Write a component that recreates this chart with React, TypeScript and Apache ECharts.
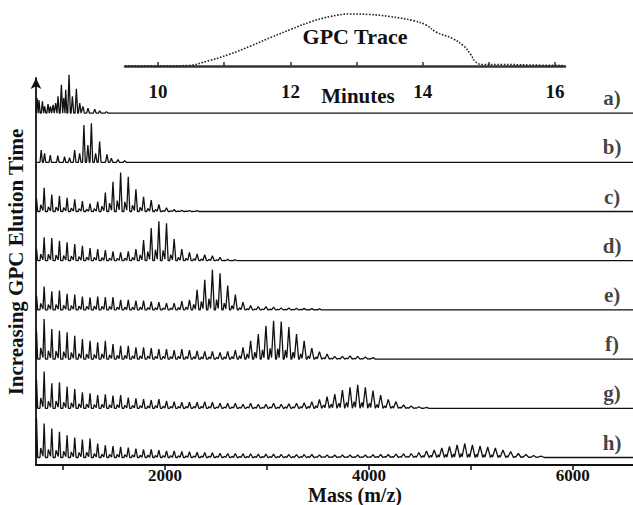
import React, { useEffect, useRef } from "react";
import * as echarts from "echarts";

// ---------------- data ----------------
const MASS_MIN = 735;
const MASS_MAX = 6590;
const massTickValues = [1000, 2000, 3000, 4000, 5000, 6000];
const massLabelValues = [2000, 4000, 6000];
const minuteTickValues = [10, 11, 12, 13, 14, 15, 16];
const minuteLabelValues = [10, 12, 14, 16];

// oligomer peak positions (m/z) shared by spectra c–h
const peakMass = [
  740, 815, 890, 965, 1040, 1115, 1190, 1265, 1340, 1415, 1490, 1565, 1640, 1715, 1790, 1865,
  1940, 2015, 2090, 2165, 2240, 2315, 2390, 2465, 2540, 2615, 2690, 2765, 2840, 2915, 2990, 3065,
  3140, 3215, 3290, 3365, 3440, 3515, 3590, 3665, 3740, 3815, 3890, 3965, 4040, 4115, 4190, 4265,
  4340, 4415, 4490, 4565, 4640, 4715, 4790, 4865, 4940, 5015, 5090, 5165, 5240, 5315, 5390, 5465,
  5540, 5615, 5690, 5765,
];

// spectrum a (explicit peak list)
const aMass = [745, 764, 798, 820, 853, 876, 902, 928, 951, 984, 1007, 1026, 1059, 1092, 1131, 1164, 1196, 1245, 1311, 1360, 1426];
const aHeight = [15, 13, 11.7, 6.7, 9, 6.7, 8.3, 10, 16.7, 28.3, 15, 23.3, 38.3, 16.7, 24.3, 10, 6.7, 5, 4, 2.3, 1.5];

// spectrum b (explicit peak list)
const bMass = [786, 819, 875, 949, 1015, 1064, 1114, 1163, 1205, 1244, 1278, 1320, 1359, 1431, 1474, 1539, 1605];
const bHeight = [12.3, 9, 7.3, 6.7, 5.7, 4.7, 12.3, 9, 37.3, 17.3, 39, 9, 20.7, 8, 4, 2.7, 1.7];

// spectra c–h: intensities on the peakMass grid
const cHeight = [13, 23.7, 17, 15.7, 13.7, 12.3, 10.3, 8, 10, 19, 29.7, 39, 34.7, 22.3, 14.7, 11.3, 7, 3.7, 2, 1.3, 1, 0.8];
const dHeight = [11.7, 23.3, 22.7, 20, 18.3, 16.7, 15, 12.7, 11.7, 10.7, 9.3, 8.3, 9.3, 11.7, 20.7, 32.7, 39.3, 37.3, 21.7, 11.7, 8.3, 6.7, 6, 5, 3.3, 1.5, 1];
const eHeight = [14.3, 23.3, 18.7, 19.3, 16, 15.3, 13.3, 12.7, 13.3, 12.7, 12.7, 10, 10, 9.3, 9.3, 8.3, 7.7, 6.7, 6.7, 8.7, 10, 20, 30, 40, 36.7, 24.3, 15.3, 7.7, 4.3, 3.3, 3.3, 2.7, 2, 2, 1.7, 1.5, 1.3, 1];
const fHeight = [28, 40, 30, 28.3, 26.7, 23.3, 20, 18.3, 16.7, 18.3, 15, 13.3, 13.3, 11.7, 11.7, 11, 10, 10, 9, 10, 9, 8.3, 7.7, 7.7, 6.7, 7.7, 9, 11.7, 18.3, 25, 33.3, 38.3, 37.5, 32, 25, 18.3, 11, 7.5, 5, 2.7, 2.7, 3.3, 2.7, 2, 1.5];
const gHeight = [28.3, 36.7, 25, 26, 21.7, 19.3, 16, 15, 13.3, 14, 12.7, 13.3, 10.7, 10, 9.3, 8.3, 9.3, 7.3, 6.7, 6, 6, 6, 6.7, 6, 5, 5, 5, 4, 5, 4, 4, 5, 4, 4.5, 5, 5.5, 6.7, 9, 11.7, 14.3, 18.3, 21, 23.5, 21, 17.7, 13.3, 9, 6.7, 3.3, 2.3, 1.5, 1];
const hHeight = [39, 34, 29, 25.7, 22.3, 20, 18, 19, 14, 12.3, 11.3, 10.7, 10, 9, 8, 8, 7.3, 6.7, 6.7, 6, 5.7, 5.3, 5, 4.7, 4.3, 4, 4, 3.7, 3.7, 3.3, 3.3, 3.3, 3, 3, 3, 3, 3, 2.7, 2.7, 2.5, 2.5, 2.5, 2.5, 2.5, 2.7, 3, 3, 3.3, 3.7, 4, 5, 6.5, 7.5, 9.5, 11, 12.5, 14, 12.5, 11.5, 10.5, 9.5, 7.5, 6, 4, 3, 2, 1.3];

const spectrumLabels = ["a)", "b)", "c)", "d)", "e)", "f)", "g)", "h)"];

// GPC trace (minutes, detector signal)
const gpcTime = [9.5, 10.0, 10.45, 10.75, 11.07, 11.4, 11.72, 12.02, 12.3, 12.6, 12.9, 13.2, 13.5, 13.85, 14.05, 14.2, 14.45, 14.62, 14.72, 14.8, 14.9, 15.2, 15.6, 16.15];
const gpcSignal = [0, 0, 0.5, 5, 11.5, 20, 29, 37, 44, 49.5, 52, 51.5, 49.5, 45.5, 41, 34, 27.5, 20, 12, 4, 1.5, 1.5, 1, 0.5];

// ---------------- layout / style ----------------
const ROW_BASE = 7.5;
const ROW_GAP = 49.2;
const LABEL_MASS = 6385;
const LABEL_LIFT = 15;
const SERIF = "'Liberation Serif', 'Times New Roman', serif";
const INK = "#111111";

type Spec = { masses: number[]; heights: number[]; shoulder: boolean };
const spectra: Spec[] = [
  { masses: aMass, heights: aHeight, shoulder: false },
  { masses: bMass, heights: bHeight, shoulder: false },
  { masses: peakMass, heights: cHeight, shoulder: true },
  { masses: peakMass, heights: dHeight, shoulder: true },
  { masses: peakMass, heights: eHeight, shoulder: true },
  { masses: peakMass, heights: fHeight, shoulder: true },
  { masses: peakMass, heights: gHeight, shoulder: true },
  { masses: peakMass, heights: hHeight, shoulder: true },
];

function rowOffset(k: number) {
  return ROW_BASE + ROW_GAP * (spectra.length - 1 - k);
}

function trace(s: Spec, off: number): number[][] {
  const pts: number[][] = [[MASS_MIN, off]];
  for (let j = 0; j < s.heights.length; j++) {
    const m = s.masses[j];
    const h = s.heights[j];
    const w = 9 + m * 0.0035;
    if (s.shoulder) {
      pts.push([m - 34 - w * 0.6, off]);
      pts.push([m - 34, off + h * 0.28]);
      pts.push([m - w, off + h * 0.04]);
    } else {
      pts.push([m - w, off]);
    }
    pts.push([m, off + h]);
    pts.push([m + w, off]);
  }
  pts.push([MASS_MAX, off]);
  return pts.map((p) => [Math.max(MASS_MIN, p[0]), p[1]]);
}

const centered = { textAlign: "center", textVerticalAlign: "middle", align: "center", verticalAlign: "middle" };

export default function App() {
  const ref = useRef<HTMLDivElement>(null);
  useEffect(() => {
    document.body.style.margin = "0";
    if (!ref.current) return;
    const chart = echarts.init(ref.current, undefined, { renderer: "svg" });

    const specSeries = spectra.map((s, k) => ({
      type: "line",
      xAxisIndex: 0,
      yAxisIndex: 0,
      data: trace(s, rowOffset(k)),
      showSymbol: false,
      symbol: "none",
      clip: false,
      silent: true,
      lineStyle: { color: INK, width: 1.3 },
    }));

    const labelSeries = {
      type: "scatter",
      xAxisIndex: 0,
      yAxisIndex: 0,
      symbolSize: 0,
      silent: true,
      clip: false,
      data: spectrumLabels.map((l, k) => [LABEL_MASS, rowOffset(k) + LABEL_LIFT, l]),
      label: {
        show: true,
        position: "inside",
        formatter: (p: any) => p.value[2],
        fontFamily: SERIF,
        fontWeight: "bold",
        fontSize: 21,
        color: INK,
      },
    };

    const gpcSeries = {
      type: "line",
      xAxisIndex: 1,
      yAxisIndex: 1,
      data: gpcTime.map((t, i) => [t, gpcSignal[i]]),
      smooth: 0.4,
      showSymbol: false,
      symbol: "none",
      silent: true,
      lineStyle: { color: "#222", width: 1.6, type: "dotted" },
    };

    const option: any = {
      animation: false,
      backgroundColor: "#ffffff",
      grid: [
        { left: 36, right: 0, top: 78, bottom: 40 },
        { left: 125, width: 440, top: 10, height: 68 },
      ],
      xAxis: [
        {
          type: "value",
          gridIndex: 0,
          min: MASS_MIN,
          max: MASS_MAX,
          axisLine: { show: true, lineStyle: { color: INK, width: 2 } },
          axisTick: { show: true, inside: false, length: 5, customValues: massTickValues, lineStyle: { color: INK, width: 1.5 } },
          axisLabel: {
            show: true,
            customValues: massLabelValues,
            formatter: (v: number) => String(v),
            fontFamily: SERIF,
            fontWeight: "bold",
            fontSize: 17,
            lineHeight: 16,
            color: INK,
            margin: 2,
          },
          splitLine: { show: false },
        },
        {
          type: "value",
          gridIndex: 1,
          min: 9.5,
          max: 16.15,
          axisLine: { show: true, lineStyle: { color: "#333", width: 2.5 } },
          axisTick: { show: true, inside: true, length: 4, customValues: minuteTickValues, lineStyle: { color: "#333", width: 1.5 } },
          axisLabel: {
            show: true,
            customValues: minuteLabelValues,
            formatter: (v: number) => String(v),
            fontFamily: SERIF,
            fontWeight: "bold",
            fontSize: 19,
            lineHeight: 17,
            color: INK,
            margin: 5,
          },
          splitLine: { show: false },
        },
      ],
      yAxis: [
        {
          type: "value",
          gridIndex: 0,
          min: 0,
          max: 387,
          axisLine: { show: true, symbol: ["none", "arrow"], symbolSize: [8, 11], lineStyle: { color: INK, width: 1.8 } },
          axisTick: { show: false },
          axisLabel: { show: false },
          splitLine: { show: false },
        },
        {
          type: "value",
          gridIndex: 1,
          min: -12,
          max: 56,
          show: false,
        },
      ],
      graphic: [
        {
          type: "text",
          x: 355,
          y: 36,
          style: { text: "GPC Trace", font: `bold 22px ${SERIF}`, fill: INK, ...centered },
        },
        {
          type: "text",
          x: 358,
          y: 96,
          style: { text: "Minutes", font: `bold 21px ${SERIF}`, fill: INK, ...centered },
        },
        {
          type: "text",
          x: 355,
          y: 494.5,
          style: { text: "Mass (m/z)", font: `bold 20px ${SERIF}`, fill: INK, ...centered },
        },
        {
          type: "text",
          x: 16,
          y: 262,
          rotation: Math.PI / 2,
          style: { text: "Increasing GPC Elution Time", font: `bold 21px ${SERIF}`, fill: INK, ...centered },
        },
      ],
      series: [...specSeries, labelSeries, gpcSeries],
    };

    chart.setOption(option);
    return () => chart.dispose();
  }, []);

  return (
    <div
      ref={ref}
      style={{ position: "absolute", left: 0, top: 0, width: 633, height: 505, background: "#fff" }}
    />
  );
}
